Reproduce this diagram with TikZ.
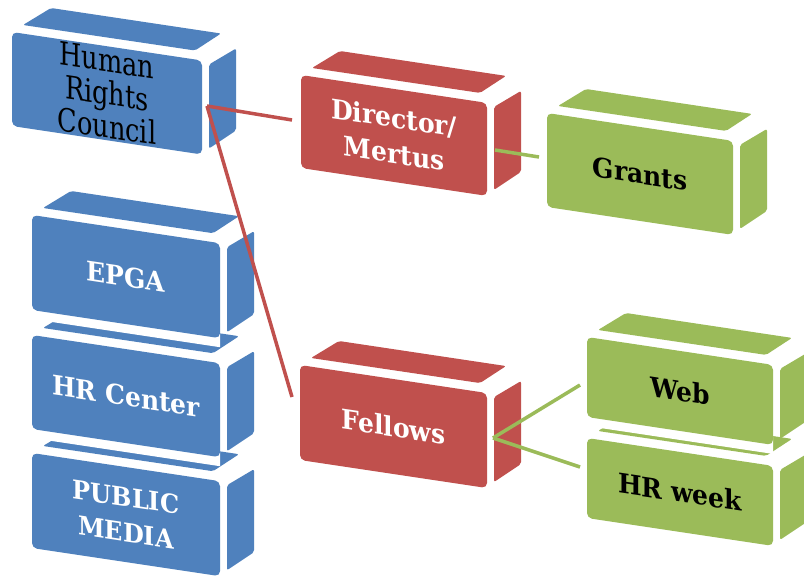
\documentclass[tikz,border=0pt]{standalone}
\usepackage{fontspec}
\setmainfont{DejaVu Serif}
\usetikzlibrary{calc}
\definecolor{cblue}{HTML}{4F81BD}
\definecolor{cred}{HTML}{C0504D}
\definecolor{cgreen}{HTML}{9BBB59}
\tikzset{
  boxtext/.style={align=center, inner sep=0pt, yslant=-0.15},
  boldtext/.style={font=\bfseries\fontsize{25}{33}\selectfont, yscale=1.08},
  redlink/.style={draw=cred, line width=3.5pt},
  greenlink/.style={draw=cgreen, line width=3.5pt},
}
% #1 name, #2 x, #3 y, #4 width, #5 height, #6 fill, #7 node options, #8 text
\newcommand{\drawcube}[8]{%
  \coordinate (#1-TL) at (#2,#3);
  \coordinate (#1-TR) at ({#2+#4},{#3+0.15*#4});
  \coordinate (#1-BR) at ({#2+#4},{#3+0.15*#4+#5});
  \coordinate (#1-BL) at (#2,{#3+#5});
  \fill[white] (#1-TL) -- (#1-TR) -- ($(#1-BR)+(0,9)$) -- ($(#1-BL)+(0,9)$) -- cycle;
  \fill[#6, rounded corners=2pt] ($(#1-TL)+(11,-7)$) -- ($(#1-TL)+(39,-24)$) -- ($(#1-TR)+(19,-27)$) -- ($(#1-TR)+(-7,-10)$) -- cycle;
  \fill[#6, rounded corners=2pt] ($(#1-TR)+(7,4)$) -- ($(#1-TR)+(34,-12)$) -- ($(#1-BR)+(34,-24)$) -- ($(#1-BR)+(7,-6)$) -- cycle;
  \fill[#6, rounded corners=5pt] (#1-TL) -- (#1-TR) -- (#1-BR) -- (#1-BL) -- cycle;
  \node[boxtext,#7] (#1) at ($(#1-TL)!0.5!(#1-BR)$) {#8};
}
\begin{document}
\begin{tikzpicture}[x=1pt,y=-1pt]
\useasboundingbox (0,0) rectangle (804,576);
\clip (0,0) rectangle (804,576);
\fill[white] (0,0) rectangle (804,576);

\drawcube{pm}{32}{453}{188}{95}{cblue}{text=white,font=\bfseries\fontsize{24}{33}\selectfont,yscale=1.08}{PUBLIC\\MEDIA}
\drawcube{hrcen}{32}{335}{188}{94}{cblue}{text=white,boldtext}{HR Center}
\drawcube{epga}{32}{215}{188}{95}{cblue}{text=white,boldtext}{EPGA}
\drawcube{hrc}{12}{32}{190}{94}{cblue}{text=black,font=\fontsize{32}{33}\selectfont,xscale=0.8}{Human\\Rights\\Council}
\drawcube{dir}{301}{75}{186}{93}{cred}{text=white,boldtext}{Director/\\Mertus}
\drawcube{gra}{547}{113}{186}{94}{cgreen}{text=black,boldtext}{Grants}
\drawcube{fel}{300}{365}{187}{95}{cred}{text=white,boldtext}{Fellows}
\drawcube{hrw}{587}{438}{186}{80}{cgreen}{text=black,boldtext}{HR week}
\drawcube{web}{587}{337}{186}{80}{cgreen}{text=black,boldtext}{Web}

\coordinate (hrc-out) at (207,106);
\coordinate (dir-in) at (292,120);
\coordinate (fel-in) at (292,397);
\coordinate (dir-out) at (495,150);
\coordinate (gra-in) at (539,157);
\coordinate (fel-out) at (493,438);
\coordinate (web-in) at (580,385);
\coordinate (hrw-in) at (580,467);

\draw[redlink] (hrc-out) -- (dir-in);
\draw[redlink] (hrc-out) -- (fel-in);
\draw[greenlink] (dir-out) -- (gra-in);
\draw[greenlink] (fel-out) -- (web-in);
\draw[greenlink] (fel-out) -- (hrw-in);
\end{tikzpicture}
\end{document}
